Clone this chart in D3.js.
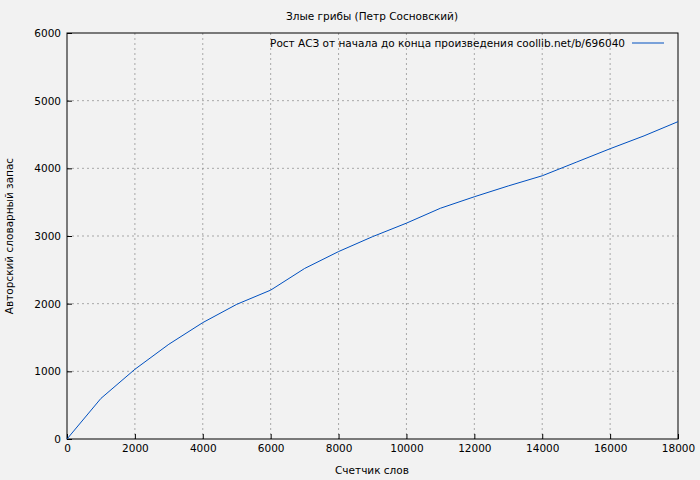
<!DOCTYPE html>
<html><head><meta charset="utf-8">
<script src="https://cdn.jsdelivr.net/npm/d3@7"></script>
<style>body{margin:0;background:#f2f2f2}svg{display:block;font-family:"DejaVu Sans",sans-serif}</style>
</head><body><svg id="c" width="700" height="480"></svg>
<script>
const words=[0,1000,2000,3000,4000,5000,6000,7000,8000,9000,10000,11000,12000,13000,14000,15000,16000,17000,18000];
const vocab=[0,600,1030,1400,1720,1990,2200,2520,2770,2990,3190,3410,3580,3740,3890,4090,4290,4480,4690];
const xTicks=[0,2000,4000,6000,8000,10000,12000,14000,16000,18000];
const yTicks=[0,1000,2000,3000,4000,5000,6000];
const title="Злые грибы (Петр Сосновский)";
const legend="Рост АСЗ от начала до конца произведения coollib.net/b/696040";
const fs=10.5;
const svg=d3.select("#c");
svg.append("rect").attr("width",700).attr("height",480).attr("fill","#f2f2f2");
const L=67,R=678,T=33,B=439;
const x=d3.scaleLinear().domain([0,18000]).range([L,R]);
const y=d3.scaleLinear().domain([0,6000]).range([B,T]);
const g=svg.append("g");
xTicks.slice(1,-1).forEach(t=>g.append("line").attr("x1",x(t)).attr("x2",x(t)).attr("y1",T).attr("y2",B).attr("stroke","#888").attr("stroke-dasharray","2,3").attr("stroke-width",0.7));
yTicks.slice(1,-1).forEach(t=>g.append("line").attr("y1",y(t)).attr("y2",y(t)).attr("x1",L).attr("x2",R).attr("stroke","#888").attr("stroke-dasharray","2,3").attr("stroke-width",0.7));
svg.append("rect").attr("x",L).attr("y",T).attr("width",R-L).attr("height",B-T).attr("fill","none").attr("stroke","#000");
const xa=svg.append("g").attr("transform",`translate(0,${B})`).call(d3.axisBottom(x).tickValues(xTicks).tickSize(-5).tickPadding(6).tickFormat(d3.format("d")));
const ya=svg.append("g").attr("transform",`translate(${L},0)`).call(d3.axisLeft(y).tickValues(yTicks).tickSize(-5).tickPadding(6).tickFormat(d3.format("d")));
[xa,ya].forEach(a=>{a.select(".domain").remove();a.selectAll("text").attr("font-size",fs).attr("font-family","DejaVu Sans").attr("fill","#000");});
svg.append("text").attr("x",372).attr("y",20).attr("text-anchor","middle").attr("font-size",fs).text(title);
svg.append("text").attr("x",372).attr("y",474).attr("text-anchor","middle").attr("font-size",fs).text("Счетчик слов");
svg.append("text").attr("transform","translate(13,236) rotate(-90)").attr("text-anchor","middle").attr("font-size",fs).text("Авторский словарный запас");
svg.append("text").attr("x",625).attr("y",47).attr("text-anchor","end").attr("font-size",fs).text(legend);
svg.append("line").attr("x1",632).attr("x2",664).attr("y1",43).attr("y2",43).attr("stroke","#0050c0");
svg.append("path").datum(words.map((w,i)=>[w,vocab[i]])).attr("fill","none").attr("stroke","#0050c0").attr("stroke-width",1)
 .attr("d",d3.line().x(d=>x(d[0])).y(d=>y(d[1])));
</script></body></html>
